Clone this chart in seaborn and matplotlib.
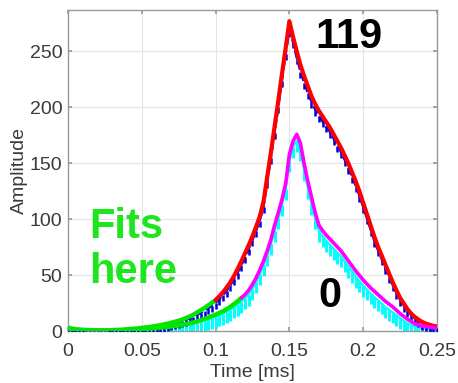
import numpy as np
import matplotlib
matplotlib.use("Agg")
import matplotlib.pyplot as plt
import seaborn as sns

# Sample times [ms], one sample every 2.5 us
time_ms = np.round(np.arange(101) * 0.0025, 4)

# Measured pulse, bin 119 (blue) and its fitted curve (green inside fit window, red after)
data_119 = [
    1.5, 1.3, 1.1, 1.0, 0.9, 0.8, 0.8, 0.8, 0.8, 0.8,
    0.8, 0.9, 0.9, 1.0, 1.1, 1.3, 1.5, 1.7, 1.9, 2.2,
    2.5, 2.8, 3.2, 3.6, 4.1, 4.6, 5.2, 5.9, 6.6, 7.4,
    8.3, 9.3, 10.4, 11.7, 13.2, 14.8, 16.6, 18.6, 20.7, 23.0,
    25.6, 28.6, 32.3, 36.4, 41.2, 46.5, 52.6, 59.0, 66.3, 73.8,
    81.5, 89.8, 99.0, 111.0, 133.0, 155.0, 177.0, 200.0, 224.0, 248.0,
    268.0, 258.0, 244.0, 232.0, 222.0, 213.0, 205.0, 198.0, 192.0, 187.5,
    183.0, 178.0, 172.0, 166.0, 160.0, 153.0, 146.0, 138.0, 130.0, 121.0,
    111.0, 101.0, 91.0, 81.0, 72.5, 64.5, 56.5, 49.0, 41.5, 34.5,
    28.0, 23.0, 18.5, 14.5, 11.5, 9.0, 7.0, 5.5, 4.5, 3.5,
    3.0,
]
fit_119 = [
    2.0, 1.8, 1.5, 1.3, 1.2, 1.1, 1.0, 1.0, 1.0, 1.0,
    1.0, 1.1, 1.2, 1.3, 1.5, 1.7, 2.0, 2.2, 2.5, 2.8,
    3.2, 3.6, 4.0, 4.5, 5.0, 5.6, 6.3, 7.0, 7.8, 8.7,
    9.6, 10.7, 12.0, 13.4, 15.0, 17.0, 19.0, 21.0, 23.3, 25.6,
    28.0, 31.3, 35.0, 39.3, 44.0, 49.6, 56.0, 62.7, 70.0, 77.3,
    85.0, 93.6, 103.0, 116.0, 138.0, 160.0, 183.0, 206.0, 230.0, 253.0,
    277.0, 263.0, 250.0, 238.0, 228.0, 219.0, 210.0, 203.0, 197.0, 192.0,
    187.0, 182.0, 176.0, 170.0, 164.0, 157.0, 150.0, 142.0, 134.0, 125.0,
    115.0, 105.0, 95.0, 85.0, 76.0, 68.0, 60.0, 52.0, 44.0, 37.0,
    30.0, 25.0, 20.0, 16.0, 13.0, 10.5, 8.5, 7.0, 6.0, 5.0,
    4.5,
]

# Measured pulse, bin 0 (cyan) and its fitted curve (green inside fit window, magenta after)
data_0 = [
    5.0, 3.5, 2.0, 1.2, 0.8, 0.6, 0.5, 0.5, 0.5, 0.5,
    0.5, 0.5, 0.5, 0.5, 0.6, 0.7, 0.8, 0.9, 1.0, 1.2,
    1.4, 1.6, 1.8, 2.1, 2.4, 2.7, 3.0, 3.4, 3.8, 4.2,
    4.7, 5.2, 5.8, 6.4, 7.1, 7.9, 8.8, 9.8, 10.9, 12.0,
    13.2, 14.5, 16.0, 17.6, 19.5, 21.6, 24.0, 26.7, 29.7, 33.0,
    38.0, 44.0, 51.0, 59.0, 68.0, 78.0, 90.0, 101.0, 113.0, 127.0,
    152.0, 165.0, 170.0, 162.0, 144.0, 128.0, 114.0, 101.0, 90.0, 85.0,
    81.0, 77.5, 74.0, 70.5, 67.0, 62.5, 58.0, 53.5, 49.0, 45.0,
    41.0, 37.5, 34.0, 31.0, 28.0, 25.0, 22.0, 19.5, 17.0, 14.5,
    12.0, 9.5, 7.5, 6.0, 4.5, 3.5, 2.8, 2.3, 2.0, 1.8,
    1.5,
]
fit_0 = [
    3.0, 2.5, 2.0, 1.7, 1.5, 1.3, 1.2, 1.1, 1.0, 0.95,
    0.9, 0.9, 0.9, 0.95, 1.0, 1.1, 1.2, 1.35, 1.5, 1.7,
    1.9, 2.1, 2.4, 2.7, 3.0, 3.3, 3.7, 4.1, 4.5, 5.0,
    5.4, 6.0, 6.6, 7.3, 8.0, 9.0, 10.0, 11.2, 12.5, 13.7,
    15.0, 16.5, 18.0, 20.0, 22.0, 24.5, 27.0, 30.0, 33.0, 37.0,
    42.0, 48.0, 55.0, 63.0, 72.0, 82.0, 95.0, 106.0, 118.0, 132.0,
    158.0, 170.0, 176.0, 168.0, 150.0, 134.0, 120.0, 106.0, 95.0, 90.0,
    86.0, 82.5, 79.0, 75.5, 72.0, 67.5, 63.0, 58.5, 54.0, 50.0,
    46.0, 42.5, 39.0, 36.0, 33.0, 30.0, 27.0, 24.5, 22.0, 19.0,
    16.0, 13.5, 11.0, 9.0, 7.0, 6.0, 5.0, 4.5, 4.0, 3.5,
    3.0,
]

# Fit windows end here [ms]
fit_end_119 = 0.1
fit_end_0 = 0.1175

x_ticks = [0, 0.05, 0.1, 0.15, 0.2, 0.25]
x_tick_labels = ["0", "0.05", "0.1", "0.15", "0.2", "0.25"]
y_ticks = [0, 50, 100, 150, 200, 250]

sns.set_theme(style="whitegrid")
plt.rcParams["font.family"] = ["Liberation Sans", "DejaVu Sans"]

fig = plt.figure(figsize=(4.58, 3.83), dpi=100)
ax = fig.add_axes([0.1485, 0.1345, 0.8055, 0.8395])
ax.set_facecolor("white")

t = np.asarray(time_ms)
d119 = np.asarray(data_119)
f119 = np.asarray(fit_119)
d0 = np.asarray(data_0)
f0 = np.asarray(fit_0)

in119 = t <= fit_end_119 + 1e-9
out119 = t >= fit_end_119 - 1e-9
in0 = t <= fit_end_0 + 1e-9
out0 = t >= fit_end_0 - 1e-9

# raw samples
sns.lineplot(x=t, y=d0, ax=ax, color="#00ffff", linewidth=1.6,
             marker=3, markersize=8, markeredgewidth=2.2,
             markeredgecolor="#00ffff", zorder=2)
sns.lineplot(x=t, y=d119, ax=ax, color="#0000dd", linewidth=1.6,
             linestyle="--", marker=3, markersize=4, markeredgewidth=1.8,
             markeredgecolor="#0000dd", zorder=3)

# fitted curves
sns.lineplot(x=t[in119], y=f119[in119], ax=ax, color="#00e600", linewidth=3.2, zorder=4)
sns.lineplot(x=t[in0], y=f0[in0], ax=ax, color="#00e600", linewidth=3.2, zorder=4)
sns.lineplot(x=t[out119], y=f119[out119], ax=ax, color="#ff0000", linewidth=3.0, zorder=5)
sns.lineplot(x=t[out0], y=f0[out0], ax=ax, color="#ff00ff", linewidth=2.6, zorder=5)

ax.set_xlim(0, 0.25)
ax.set_ylim(0, 287)
ax.set_xticks(x_ticks)
ax.set_xticklabels(x_tick_labels)
ax.set_yticks(y_ticks)

ax.grid(True, color="#e4e4e4", linewidth=0.8)
for side in ["left", "right", "top", "bottom"]:
    ax.spines[side].set_visible(True)
    ax.spines[side].set_color("#9a9a9a")
    ax.spines[side].set_linewidth(1.0)
ax.tick_params(axis="both", which="both", direction="in", length=3,
               color="#9a9a9a", labelsize=14, labelcolor="#3a3a3a",
               top=True, right=True, bottom=True, left=True)
ax.tick_params(axis="x", pad=8)
ax.tick_params(axis="y", pad=4)

ax.set_xlabel("Time [ms]", fontsize=14, color="#3a3a3a", labelpad=3)
ax.set_ylabel("Amplitude", fontsize=14, color="#3a3a3a", labelpad=1)

ax.text(0.1907, 263, "119", fontsize=30, fontweight="bold", color="black",
        ha="center", va="center", zorder=6)
ax.text(0.1778, 32, "0", fontsize=30, fontweight="bold", color="black",
        ha="center", va="center", zorder=6)
ax.text(0.0142, 73, "Fits\nhere", fontsize=30, fontweight="bold", color="#1ee61e",
        ha="left", va="center", linespacing=1.15, zorder=6)

fig.savefig("out.png", dpi=100)
